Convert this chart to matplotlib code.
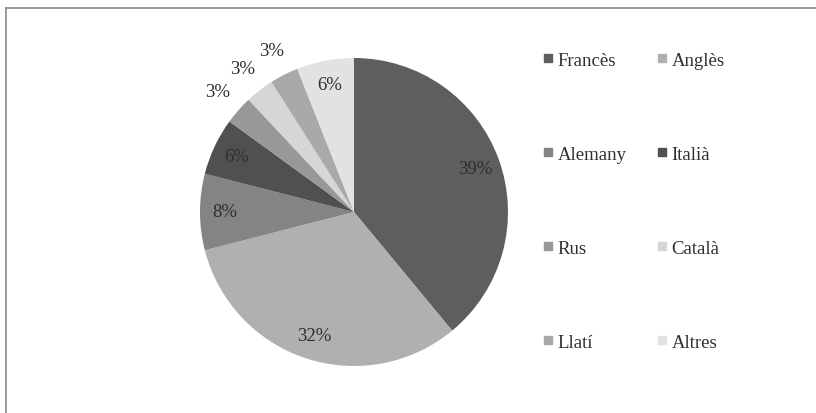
import numpy as np
import matplotlib
matplotlib.use("Agg")
import matplotlib.pyplot as plt
from matplotlib.lines import Line2D

plt.rcParams['font.family'] = ['Liberation Serif', 'DejaVu Serif']

languages = ["Francès", "Anglès", "Alemany", "Italià", "Rus", "Català", "Llatí", "Altres"]
shares = [39, 32, 8, 6, 3, 3, 3, 6]
colors = ["#5e5e5e", "#b0b0b0", "#848484", "#505050", "#989898", "#d6d6d6", "#a9a9a9", "#e2e2e2"]

W, H = 816, 414
fig = plt.figure(figsize=(W / 100, H / 100), dpi=100)
fig.patch.set_facecolor("white")

# chart frame (top and left edges)
fig.add_artist(Line2D([6 / W, 1], [1 - 9 / H, 1 - 9 / H], color="#8a8a8a", lw=1.2))
fig.add_artist(Line2D([6 / W, 6 / W], [0, 1 - 9 / H], color="#8a8a8a", lw=1.2))

cx, cy, r = 354, 414 - 213, 154
ax = fig.add_axes([(cx - r) / W, (cy - r) / H, 2 * r / W, 2 * r / H])
wedges, _ = ax.pie(shares, colors=colors, startangle=90, counterclock=False,
                   wedgeprops=dict(linewidth=0))
ax.set_aspect("equal")
ax.set_xlim(-1, 1)
ax.set_ylim(-1, 1)

for w, v in zip(wedges, shares):
    ang = np.deg2rad((w.theta1 + w.theta2) / 2)
    dist = 1.18 if v <= 3 else 0.84
    ax.text(dist * np.cos(ang), dist * np.sin(ang), f"{v}%", ha="center", va="center",
            fontsize=13.5, color="#2e2e2e", clip_on=False)

handles = [Line2D([], [], marker="s", linestyle="none", markersize=6,
                  markerfacecolor=c, markeredgecolor=c) for c in colors]
# legend fills row by row: two entries per row
order = [0, 2, 4, 6, 1, 3, 5, 7]
leg = fig.legend([handles[i] for i in order], [languages[i] for i in order],
                 ncol=2, loc="upper left",
                 bbox_to_anchor=(535 / W, 1 - 45 / H), frameon=False,
                 fontsize=13.5, handlelength=0.6, handletextpad=0.2,
                 columnspacing=1.6, labelspacing=4.1, borderaxespad=0)
for t in leg.get_texts():
    t.set_color("#303030")

fig.savefig("out.png", dpi=100, facecolor="white")
